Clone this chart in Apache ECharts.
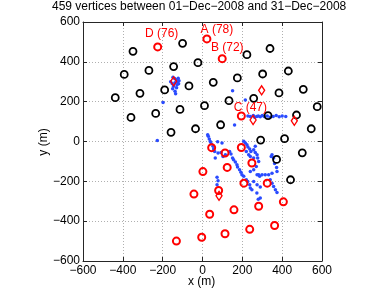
<!DOCTYPE html>
<html>
<head>
<meta charset="utf-8">
<script src="https://cdn.jsdelivr.net/npm/echarts@6/dist/echarts.min.js"></script>
<style>
html,body{margin:0;padding:0;background:#fff;}
#chart{width:391px;height:294px;}
</style>
</head>
<body>
<div id="chart"></div>
<script>
const titleText = '459 vertices between 01\u2212Dec\u22122008 and 31\u2212Dec\u22122008';
const xTicks = [-600, -400, -200, 0, 200, 400, 600];
const yTicks = [-600, -400, -200, 0, 200, 400, 600];

const blackCircles = [
  [-349,453],[-100,493],[-393,337],[-269,357],[-145,376],[-23,396],[-438,220],[-314,242],
  [-190,259],[-68,279],[-359,121],[-235,141],[-113,161],[10,180],[-158,46],[-35,64],
  [223,436],[339,467],[54,297],[175,319],[302,339],[431,354],[133,205],[257,217],
  [384,244],[506,262],[576,175],[329,130],[472,133],[91,84],[546,64],
  [292,7],[412,14],[501,-57],[372,-90],[442,-192]
];

const redCircles = [
  [22,515],[99,416],[-225,475],[195,128],
  [46,-31],[113,-58],[195,-30],[124,-130],[248,-108],[2,-151],[208,-209],[325,-209],
  [81,-246],[406,-303],[282,-325],[158,-343],[36,-365],[362,-422],[237,-441],[113,-463],
  [-4,-481],[-43,-264],[-131,-500]
];
const redLabels = ['A (78)', 'B (72)', 'D (76)', 'C (47)'];

const redDiamonds = [[-145,302],[297,257],[254,108],[461,104],[83,-273]];

const blueDots = [
  [-148,322],[-140,316],[-132,310],[-125,300],[-120,290],[-128,285],[-138,295],[-152,290],
  [-145,278],[-150,265],[-138,252],[-130,270],[-118,305],[-122,318],[-160,300],[-135,240],
  [-198,196],[-227,5],[151,255],[215,208],[161,83],
  [228,128],[240,125],[255,130],[262,122],[272,126],[280,128],[290,124],[300,130],
  [310,126],[325,128],[340,122],[355,126],[370,130],[385,124],[400,128],[418,126],
  [26,34],[29,26],[34,12],[39,0],[44,-11],[53,-24],[56,-38],[61,-50],[64,-83],
  [76,-1],[98,-8],[78,-58],[93,-55],[103,-75],[115,-66],
  [136,-50],[143,-63],[151,-83],[156,-92],[165,-103],[173,-117],[176,-128],[186,-142],
  [193,-154],[198,-167],[207,-175],[220,-192],[227,-201],[237,-217],[240,-234],[248,-242],
  [207,1],[215,-8],[223,-16],[228,-28],[237,-38],[243,-50],[257,-41],[265,-55],[274,-66],
  [277,-83],[257,-83],[240,-75],[232,-66],[220,-50],[265,-24],[282,-100],[270,-125],
  [257,-142],[240,-150],[274,-167],[287,-175],[257,-201],[274,-217],[290,-229],
  [73,-180],[78,-197],[73,-217],
  [345,-75],[357,-83],[349,-67],[362,-110],[372,-130],[374,-150],[349,-159],[332,-167],
  [315,-167],[299,-167],[282,-167],[340,-192],[349,-209],[357,-226],[366,-242],[374,-256],
  [290,-284],[273,-259],[280,-290]
];

const FONT = '"Liberation Sans", Arial, Helvetica, sans-serif';
const labelOffsets = [[10,-9],[5,-11],[4,-13],[9,-8]];

const fmt = v => String(v).replace('-', '\u2212');

const redData = redCircles.map((p, i) => {
  if (i < redLabels.length) {
    return {
      value: p,
      label: {
        show: true, formatter: redLabels[i], position: 'inside',
        offset: labelOffsets[i], color: '#ff0000', fontSize: 12, fontFamily: FONT
      }
    };
  }
  return { value: p };
});

const chart = echarts.init(document.getElementById('chart'), null, {renderer: 'canvas'});
const axisCommon = {
  type: 'value', min: -600, max: 600, interval: 200,
  axisLine: {show: true, onZero: false, lineStyle: {color: '#262626', width: 1}},
  axisTick: {show: true, inside: true, length: 4, lineStyle: {color: '#262626'}},
};
chart.setOption({
  animation: false,
  backgroundColor: '#ffffff',
  grid: {left: 83, right: 69, top: 22, bottom: 33, containLabel: false},
  graphic: [
    {type: 'text', left: 52, top: 1, style: {text: titleText, fontSize: 12, fontFamily: FONT, fill: '#000'}},
    {type: 'text', left: 188, top: 276, style: {text: 'x (m)', fontSize: 12, fontFamily: FONT, fill: '#000'}},
    {type: 'text', x: 44, y: 142, rotation: Math.PI / 2, style: {text: 'y (m)', fontSize: 12, fontFamily: FONT, fill: '#000', align: 'center', verticalAlign: 'middle'}}
  ],
  xAxis: [
    Object.assign({}, axisCommon, {
      position: 'bottom',
      axisLabel: {formatter: fmt, fontSize: 12, fontFamily: FONT, color: '#000', margin: 4},
      splitLine: {show: true, lineStyle: {color: '#b0b0b0', type: [1, 2], width: 1}}
    }),
    Object.assign({}, axisCommon, {
      position: 'top', axisLabel: {show: false}, splitLine: {show: false}
    })
  ],
  yAxis: [
    Object.assign({}, axisCommon, {
      position: 'left',
      axisLabel: {formatter: fmt, fontSize: 12, fontFamily: FONT, color: '#000', margin: 3},
      splitLine: {show: true, lineStyle: {color: '#b0b0b0', type: [1, 2], width: 1}}
    }),
    Object.assign({}, axisCommon, {
      position: 'right', axisLabel: {show: false}, splitLine: {show: false}
    })
  ],
  series: [
    {
      type: 'scatter', data: blueDots, symbol: 'circle', symbolSize: 3.5,
      itemStyle: {color: '#2a4bff', opacity: 1}, z: 2
    },
    {
      type: 'scatter', data: blackCircles, symbol: 'circle', symbolSize: 7,
      itemStyle: {color: 'rgba(0,0,0,0)', borderColor: '#000', borderWidth: 1.8, opacity: 1}, z: 3
    },
    {
      type: 'scatter', data: redData, symbol: 'circle', symbolSize: 7,
      itemStyle: {color: 'rgba(0,0,0,0)', borderColor: '#ff0000', borderWidth: 2, opacity: 1}, z: 4
    },
    {
      type: 'scatter', data: redDiamonds, symbol: 'diamond', symbolSize: [6, 9],
      itemStyle: {color: 'rgba(0,0,0,0)', borderColor: '#ff0000', borderWidth: 1.4, opacity: 1}, z: 4
    }
  ]
});
</script>
</body>
</html>
